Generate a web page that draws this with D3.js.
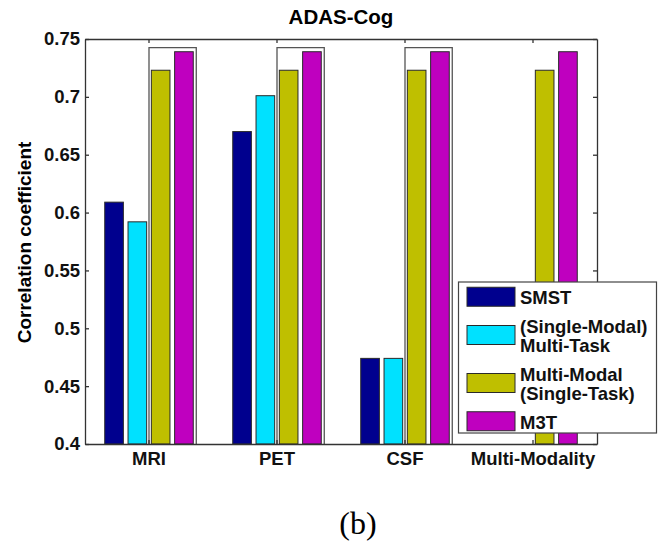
<!DOCTYPE html>
<html>
<head>
<meta charset="utf-8">
<script src="https://cdn.jsdelivr.net/npm/d3@7"></script>
<style>
  body { margin: 0; background: #fff; }
  svg { display: block; font-family: Arial, "Liberation Sans", sans-serif; }
</style>
</head>
<body>
<svg id="chart" width="668" height="548"></svg>
<script>
// groups along the x axis
var groups = ["MRI", "PET", "CSF", "Multi-Modality"];
var seriesNames = ["SMST", "(Single-Modal)\nMulti-Task", "Multi-Modal\n(Single-Task)", "M3T"];
var seriesColors = ["#00008e", "#00e1ff", "#bfbf00", "#bf00bf"];

// values (null = no bar)
var smst = [0.609, 0.670, 0.474, null];
var multiTask = [0.592, 0.701, 0.474, null];
var multiModal = [0.723, 0.723, 0.723, 0.723];
var m3t = [0.739, 0.739, 0.739, 0.739];

var yTicks = [0.4, 0.45, 0.5, 0.55, 0.6, 0.65, 0.7, 0.75];
var boxGroups = ["MRI", "PET", "CSF"];
var boxTop = 0.7425;

var allSeries = [smst, multiTask, multiModal, m3t];

var svg = d3.select("#chart");
var margin = { left: 85, right: 71, top: 39, bottom: 104 };
var width = 668, height = 548;
var plotL = margin.left, plotR = width - margin.right;
var plotT = margin.top, plotB = height - margin.bottom;

var x0 = d3.scaleBand().domain(groups).range([plotL, plotR]);
var bw = x0.bandwidth();
var step = bw * 0.182;
var x1 = d3.scaleBand()
  .domain(d3.range(seriesNames.length))
  .range([bw / 2 - 2 * step, bw / 2 + 2 * step])
  .paddingInner(0.2)
  .paddingOuter(0.1);

var y = d3.scaleLinear().domain([0.4, 0.75]).range([plotB, plotT]);

// title
svg.append("text")
  .attr("x", 341)
  .attr("y", 24)
  .attr("text-anchor", "middle")
  .style("font-size", "20.5px")
  .style("font-weight", "bold")
  .text("ADAS-Cog");

// bars
var barData = [];
groups.forEach(function(g, gi) {
  allSeries.forEach(function(s, si) {
    if (s[gi] != null) barData.push({ group: g, series: si, value: s[gi] });
  });
});

svg.append("g").selectAll("rect")
  .data(barData)
  .enter().append("rect")
  .attr("x", function(d) { return x0(d.group) + x1(d.series); })
  .attr("y", function(d) { return y(d.value); })
  .attr("width", x1.bandwidth())
  .attr("height", function(d) { return y(0.4) - y(d.value); })
  .attr("fill", function(d) { return seriesColors[d.series]; })
  .attr("stroke", "#2a2a2a")
  .attr("stroke-width", 1);

// boxes round the multi-modal bars
svg.append("g").selectAll("path")
  .data(boxGroups)
  .enter().append("path")
  .attr("d", function(g) {
    var l = x0(g) + bw / 2;
    var r = x0(g) + x1(3) + x1.bandwidth() + 3;
    return "M" + l + "," + y(0.4) + "V" + y(boxTop) + "H" + r + "V" + y(0.4);
  })
  .attr("fill", "none")
  .attr("stroke", "#555")
  .attr("stroke-width", 1.3);

// axes
var axisColor = "#333";
var gLeft = svg.append("g")
  .attr("transform", "translate(" + plotL + ",0)")
  .call(d3.axisLeft(y).tickValues(yTicks).tickSizeInner(-4).tickSizeOuter(0)
    .tickPadding(5).tickFormat(function(d) { return String(d); }));
var gRight = svg.append("g")
  .attr("transform", "translate(" + plotR + ",0)")
  .call(d3.axisRight(y).tickValues(yTicks).tickSizeInner(-4).tickSizeOuter(0)
    .tickFormat(""));
var gBottom = svg.append("g")
  .attr("transform", "translate(0," + plotB + ")")
  .call(d3.axisBottom(x0).tickSizeInner(-4).tickSizeOuter(0).tickPadding(8));
var gTop = svg.append("g")
  .attr("transform", "translate(0," + plotT + ")")
  .call(d3.axisTop(x0).tickSizeInner(-4).tickSizeOuter(0).tickFormat(""));

[gLeft, gRight, gBottom, gTop].forEach(function(g) {
  g.selectAll("path, line").attr("stroke", axisColor).attr("stroke-width", 1.3);
  g.selectAll("text")
    .attr("fill", "#111")
    .style("font-family", "Arial, 'Liberation Sans', sans-serif")
    .style("font-size", "18.5px")
    .style("font-weight", "bold");
});

// y axis label
svg.append("text")
  .attr("transform", "translate(31,242.5) rotate(-90)")
  .attr("text-anchor", "middle")
  .style("font-size", "19px")
  .style("font-weight", "bold")
  .text("Correlation coefficient");

// legend
var legend = svg.append("g").attr("class", "legend");
legend.append("rect")
  .attr("x", 458.5).attr("y", 282)
  .attr("width", 198).attr("height", 151)
  .attr("fill", "#fff")
  .attr("stroke", "#444")
  .attr("stroke-width", 1.2);

var lineH = 19.5, gap = 9;
var cursor = 287;
seriesNames.forEach(function(name, i) {
  var lines = name.split("\n");
  var h = lines.length * lineH;
  var cy = cursor + h / 2;
  legend.append("rect")
    .attr("x", 467).attr("y", cy - 9.5)
    .attr("width", 48).attr("height", 19)
    .attr("fill", seriesColors[i])
    .attr("stroke", "#2a2a2a")
    .attr("stroke-width", 1);
  var t = legend.append("text")
    .attr("x", 520)
    .style("font-size", "18.5px")
    .style("font-weight", "bold")
    .attr("fill", "#111");
  lines.forEach(function(ln, li) {
    t.append("tspan")
      .attr("x", 520)
      .attr("y", cy - (lines.length - 1) / 2 * lineH + li * lineH + 7.5)
      .text(ln);
  });
  cursor += h + gap;
});

// caption
svg.append("text")
  .attr("x", 358)
  .attr("y", 534)
  .attr("text-anchor", "middle")
  .style("font-family", "'Liberation Serif', 'Times New Roman', serif")
  .style("font-size", "32px")
  .text("(b)");
</script>
</body>
</html>
